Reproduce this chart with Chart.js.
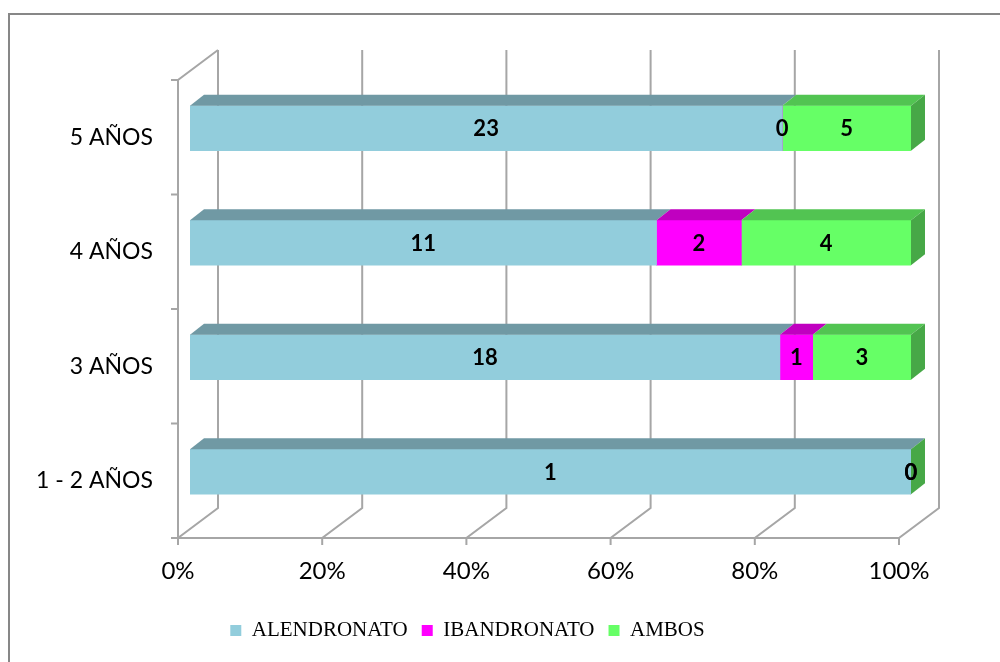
<!DOCTYPE html>
<html>
<head>
<meta charset="utf-8">
<script src="https://cdn.jsdelivr.net/npm/chart.js@4.4.1/dist/chart.umd.min.js"></script>
<style>
  html, body { margin: 0; padding: 0; background: #fff; }
</style>
</head>
<body>
<canvas id="chart" width="1000" height="662"></canvas>
<script>
// Years of treatment, bottom to top as in the picture
const categories = ['1 - 2 AÑOS', '3 AÑOS', '4 AÑOS', '5 AÑOS'];
const alendronato = [1, 18, 11, 23];
const ibandronato = [0, 1, 2, 0];
const ambos = [0, 3, 4, 5];
const xTicks = [0, 20, 40, 60, 80, 100];

// fake 3D: offsets of the front and back planes of the box, and bar depth
const FRONT = { dx: -12, dy: 9 };
const BACK = { dx: 28, dy: -21 };
const BAR = { dx: 14, dy: -11 };

const series = [alendronato, ibandronato, ambos];
const totals = categories.map((_, i) => series.reduce((s, arr) => s + arr[i], 0));
const toPct = arr => arr.map((v, i) => v / totals[i] * 100);

function polygon(ctx, pts) {
    ctx.beginPath();
    ctx.moveTo(pts[0][0], pts[0][1]);
    for (let i = 1; i < pts.length; i++) ctx.lineTo(pts[i][0], pts[i][1]);
    ctx.closePath();
    ctx.fill();
}

const box3d = {
    id: 'box3d',
    beforeDraw(chart) {
        const ctx = chart.ctx;
        ctx.save();
        ctx.strokeStyle = '#878787';
        ctx.lineWidth = 2;
        ctx.beginPath();
        ctx.moveTo(9, 662);
        ctx.lineTo(9, 14);
        ctx.lineTo(1000, 14);
        ctx.stroke();
        ctx.restore();
    },
    beforeDatasetsDraw(chart) {
        const { ctx, chartArea: a, scales: { x } } = chart;
        ctx.save();
        ctx.strokeStyle = '#a6a6a6';
        ctx.lineWidth = 2;
        ctx.beginPath();
        // back wall gridlines and floor slants
        x.ticks.forEach(t => {
            const px = x.getPixelForValue(t.value);
            ctx.moveTo(px + BACK.dx, a.top + BACK.dy);
            ctx.lineTo(px + BACK.dx, a.bottom + BACK.dy);
            ctx.lineTo(px + FRONT.dx, a.bottom + FRONT.dy);
            ctx.lineTo(px + FRONT.dx, a.bottom + FRONT.dy + 7);
        });
        // front axes and the top edge of the left wall
        const l = a.left + FRONT.dx;
        ctx.moveTo(a.left + BACK.dx, a.top + BACK.dy);
        ctx.lineTo(l, a.top + FRONT.dy);
        ctx.lineTo(l, a.bottom + FRONT.dy);
        ctx.lineTo(x.getPixelForValue(100) + FRONT.dx, a.bottom + FRONT.dy);
        // category ticks
        const n = categories.length;
        const band = (a.bottom - a.top) / n;
        for (let k = 0; k <= n; k++) {
            const yy = a.top + k * band + FRONT.dy;
            ctx.moveTo(l - 7, yy);
            ctx.lineTo(l, yy);
        }
        ctx.stroke();
        ctx.restore();
    },
    afterDatasetsDraw(chart) {
        const ctx = chart.ctx;
        const datasets = chart.data.datasets;
        const last = datasets.length - 1;
        ctx.save();
        // top and side faces of the bars
        datasets.forEach((ds, di) => {
            chart.getDatasetMeta(di).data.forEach(bar => {
                const { x, y, base, height } = bar.getProps(['x', 'y', 'base', 'height'], true);
                const top = y - height / 2, bot = y + height / 2;
                ctx.fillStyle = ds.topColor;
                if (x > base) {
                    polygon(ctx, [[base, top], [x, top], [x + BAR.dx, top + BAR.dy], [base + BAR.dx, top + BAR.dy]]);
                }
                if (di === last) {
                    ctx.fillStyle = ds.sideColor;
                    polygon(ctx, [[x, top], [x + BAR.dx, top + BAR.dy], [x + BAR.dx, bot + BAR.dy], [x, bot]]);
                }
            });
        });
        // value labels (raw counts)
        ctx.font = 'bold 22px Lato';
        ctx.fillStyle = '#000';
        ctx.textAlign = 'center';
        ctx.textBaseline = 'middle';
        datasets.forEach((ds, di) => {
            chart.getDatasetMeta(di).data.forEach((bar, i) => {
                const { x, y, base } = bar.getProps(['x', 'y', 'base'], true);
                ctx.fillText(String(series[di][i]), (x + base) / 2, y + 1);
            });
        });
        ctx.restore();
    }
};

new Chart(document.getElementById('chart'), {
    type: 'bar',
    data: {
        labels: categories,
        datasets: [
            { label: 'ALENDRONATO', data: toPct(alendronato), backgroundColor: '#92CDDC', topColor: '#7099A4', sideColor: '#6A8F99' },
            { label: 'IBANDRONATO', data: toPct(ibandronato), backgroundColor: '#FF00FF', topColor: '#C000C0', sideColor: '#B000B0' },
            { label: 'AMBOS', data: toPct(ambos), backgroundColor: '#66FF66', topColor: '#52C452', sideColor: '#47A847' }
        ].map(d => Object.assign(d, { borderWidth: 0, barThickness: 45 }))
    },
    options: {
        indexAxis: 'y',
        responsive: false,
        animation: false,
        events: [],
        layout: { padding: { top: 71, right: 89, bottom: 11, left: 24 } },
        scales: {
            x: {
                stacked: true,
                min: 0,
                max: 100,
                afterBuildTicks: s => { s.ticks = xTicks.map(v => ({ value: v })); },
                afterFit: s => { s.height = 77; },
                grid: { display: false, drawTicks: false },
                border: { display: false },
                ticks: {
                    autoSkip: false,
                    maxRotation: 0,
                    labelOffset: -12,
                    padding: 28,
                    color: '#000',
                    font: { family: 'Lato', size: 24 },
                    callback: v => v + '%'
                }
            },
            y: {
                stacked: true,
                reverse: true,
                afterFit: s => { s.width = 166; },
                grid: { display: false, drawTicks: false },
                border: { display: false },
                ticks: {
                    labelOffset: 9,
                    padding: 37,
                    color: '#000',
                    font: { family: 'Lato', size: 23 }
                }
            }
        },
        plugins: {
            legend: {
                position: 'bottom',
                labels: {
                    boxWidth: 11,
                    boxHeight: 11,
                    padding: 14,
                    color: '#000',
                    font: { family: 'Liberation Serif', size: 21 }
                }
            },
            tooltip: { enabled: false }
        }
    },
    plugins: [box3d]
});
</script>
</body>
</html>
